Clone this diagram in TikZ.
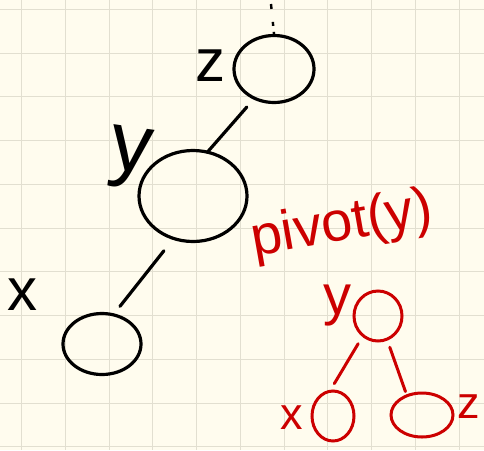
\documentclass[tikz,border=0pt]{standalone}
\usepackage{fontspec}
\setmainfont{Liberation Sans}
\usetikzlibrary{shapes.geometric}
\definecolor{paper}{HTML}{FFFCEE}
\definecolor{gridline}{HTML}{E2DFD0}
\definecolor{redink}{HTML}{CC0000}
\tikzset{
  bubble/.style={draw, ellipse, inner sep=0pt, line width=3.2pt},
  ink/.style={line width=3.2pt, line cap=round},
  tag/.style={inner sep=0pt, font=\fontsize{60}{60}\selectfont}
}

\begin{document}
\begin{tikzpicture}[x=1pt, y=-1pt]

  % paper and grid
  \fill[paper] (0,0) rectangle (484,450);
  \useasboundingbox (0,0) rectangle (484,450);
  \foreach \k in {0,...,10} {
    \draw[gridline, line width=1pt] (21.7+43.75*\k,0) -- (21.7+43.75*\k,450);
    \draw[gridline, line width=1pt] (0,9.3+43.75*\k) -- (484,9.3+43.75*\k);
  }

  % Tree before the pivot
  \node[bubble, minimum width=80pt, minimum height=67pt] (zn) at (274,69) {};
  \node[bubble, minimum width=108pt, minimum height=91pt] (yn) at (193,196) {};
  \node[bubble, minimum width=78pt, minimum height=61pt] (xn) at (102,344) {};
  \node[tag] (zl) at (210,66) {z};
  \node[tag, font=\fontsize{84}{84}\selectfont, rotate=-8] (yl) at (130,158) {y};
  \node[tag] (xl) at (23,295) {x};
  \coordinate (top) at (271,4);
  \draw[line width=2.4pt, dash pattern=on 5pt off 13pt on 4pt off 6pt on 2pt off 40pt] (top) -- (zn.north);
  \draw[ink, shorten <=10pt, shorten >=-2pt] (zn.236) -- (yn.71);
  \draw[ink, shorten <=14pt, shorten >=9pt] (yn.245) -- (xn.68);

  % Tree after the pivot
  \node[tag, redink, font=\fontsize{56}{56}\selectfont, rotate=10] (title) at (342,226) {pivot(y)};
  \node[bubble, redink, line width=3pt, minimum width=48pt, minimum height=50pt] (ry) at (378,316) {};
  \node[bubble, redink, line width=3pt, minimum width=42pt, minimum height=50pt] (rx) at (333,416) {};
  \node[bubble, redink, line width=3pt, minimum width=62pt, minimum height=44pt] (rz) at (422,415) {};
  \node[tag, redink, font=\fontsize{56}{56}\selectfont] (ryl) at (337,306) {y};
  \node[tag, redink, font=\fontsize{45}{45}\selectfont] (rxl) at (292,418) {x};
  \node[tag, redink, font=\fontsize{45}{45}\selectfont] (rzl) at (469,407) {z};
  \draw[ink, redink, line width=3pt, shorten <=8pt, shorten >=7pt] (ry.233) -- (rx.95);
  \draw[ink, redink, line width=3pt, shorten <=7pt, shorten >=3pt] (ry.291) -- (rz.127);

\end{tikzpicture}
\end{document}
